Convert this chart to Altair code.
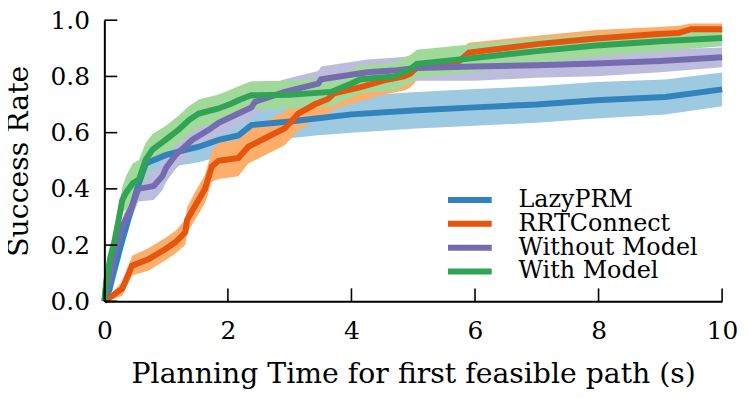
import altair as alt
import pandas as pd

series_names = ["LazyPRM", "RRTConnect", "Without Model", "With Model"]
line_colors = ["#3182bd", "#e6550d", "#756bb1", "#31a354"]
band_colors = ["#9ecae1", "#fdae6b", "#bcbddc", "#a1d99b"]
x_ticks = [0, 2, 4, 6, 8, 10]
y_ticks = [0.0, 0.2, 0.4, 0.6, 0.8, 1.0]

# LazyPRM
lazy_x = [0, 0.08, 0.15, 0.27, 0.4, 0.53, 0.67, 0.99, 1.25, 1.53, 1.85, 2.17, 2.38, 3.0, 3.46, 4.0, 5.06, 6.0, 7.0, 7.96, 9.08, 10]
lazy_y = [0, 0.04, 0.1, 0.2, 0.3, 0.4, 0.49, 0.52, 0.535, 0.55, 0.574, 0.59, 0.627, 0.64, 0.651, 0.665, 0.68, 0.69, 0.70, 0.715, 0.727, 0.754]
lazy_e = [0, 0.01, 0.02, 0.025, 0.03, 0.035, 0.04, 0.045, 0.05, 0.055, 0.06, 0.06, 0.06, 0.06, 0.06, 0.065, 0.065, 0.065, 0.065, 0.065, 0.062, 0.06]

# RRTConnect
rrt_x = [0, 0.1, 0.29, 0.45, 0.72, 0.99, 1.15, 1.31, 1.34, 1.47, 1.63, 1.74, 1.85, 2.17, 2.33, 2.6, 2.92, 3.14, 3.4, 3.62, 3.72, 4.15, 4.53, 4.85, 4.95, 5.1, 5.75, 5.9, 7.0, 7.96, 8.9, 9.3, 9.5, 10]
rrt_y = [0, 0.015, 0.045, 0.127, 0.15, 0.186, 0.21, 0.245, 0.29, 0.34, 0.40, 0.48, 0.50, 0.51, 0.55, 0.58, 0.615, 0.668, 0.70, 0.72, 0.74, 0.762, 0.786, 0.80, 0.81, 0.84, 0.855, 0.885, 0.915, 0.935, 0.95, 0.955, 0.968, 0.968]
rrt_e = [0, 0.01, 0.025, 0.035, 0.04, 0.04, 0.04, 0.045, 0.045, 0.05, 0.05, 0.055, 0.065, 0.065, 0.06, 0.06, 0.06, 0.06, 0.055, 0.055, 0.055, 0.05, 0.05, 0.05, 0.05, 0.045, 0.04, 0.035, 0.03, 0.03, 0.025, 0.025, 0.02, 0.02]

# Without Model
wo_x = [0, 0.05, 0.1, 0.2, 0.3, 0.45, 0.55, 0.8, 0.94, 1.0, 1.15, 1.42, 1.69, 1.85, 2.17, 2.38, 2.44, 2.92, 3.46, 3.51, 4.26, 4.74, 5.06, 6.0, 7.0, 7.96, 9.0, 10]
wo_y = [0, 0.05, 0.1, 0.2, 0.27, 0.34, 0.40, 0.41, 0.445, 0.475, 0.52, 0.574, 0.61, 0.635, 0.668, 0.69, 0.71, 0.745, 0.774, 0.79, 0.815, 0.822, 0.83, 0.835, 0.84, 0.846, 0.855, 0.868]
wo_e = [0, 0.015, 0.02, 0.025, 0.03, 0.04, 0.045, 0.05, 0.05, 0.05, 0.05, 0.045, 0.045, 0.045, 0.045, 0.045, 0.045, 0.045, 0.045, 0.045, 0.045, 0.045, 0.045, 0.05, 0.045, 0.045, 0.04, 0.035]

# With Model
wm_x = [0, 0.03, 0.1, 0.16, 0.24, 0.29, 0.35, 0.46, 0.56, 0.67, 0.78, 0.99, 1.2, 1.37, 1.53, 1.85, 2.06, 2.17, 2.38, 3.0, 3.67, 3.99, 4.15, 4.69, 4.96, 5.06, 5.87, 7.0, 7.96, 9.0, 10]
wm_y = [0, 0.07, 0.16, 0.21, 0.30, 0.36, 0.386, 0.42, 0.433, 0.504, 0.54, 0.574, 0.61, 0.645, 0.668, 0.686, 0.704, 0.715, 0.733, 0.735, 0.745, 0.774, 0.79, 0.80, 0.827, 0.845, 0.863, 0.89, 0.91, 0.925, 0.937]
wm_e = [0, 0.02, 0.03, 0.035, 0.04, 0.045, 0.06, 0.07, 0.07, 0.06, 0.055, 0.05, 0.05, 0.05, 0.05, 0.05, 0.05, 0.05, 0.05, 0.05, 0.05, 0.05, 0.05, 0.05, 0.05, 0.05, 0.05, 0.045, 0.04, 0.035, 0.03]

all_series = [
    ("LazyPRM", lazy_x, lazy_y, lazy_e),
    ("RRTConnect", rrt_x, rrt_y, rrt_e),
    ("Without Model", wo_x, wo_y, wo_e),
    ("With Model", wm_x, wm_y, wm_e),
]

rows = []
for name, xs, ys, es in all_series:
    assert len(xs) == len(ys) == len(es), name
    for x, y, e in zip(xs, ys, es):
        rows.append({"series": name, "t": x, "rate": y,
                     "lo": max(0.0, y - e), "hi": min(1.0, y + e)})
df = pd.DataFrame(rows)

W, H = 622, 283
FONT = "DejaVu Serif"
X_TITLE = "Planning Time for first feasible path (s)"
Y_TITLE = "Success Rate"

x_axis = alt.Axis(values=x_ticks, format="d", labelFont=FONT, labelFontSize=25,
                  labelColor="black", ticks=False, tickSize=0, labelPadding=37,
                  labelBaseline="alphabetic", domainColor="black", domainWidth=2,
                  grid=False, titleFont=FONT, titleFontSize=28.5, titleFontWeight="normal",
                  titleColor="black", titleBaseline="alphabetic", titleY=82,
                  labelFlush=False, zindex=1)
y_axis = alt.Axis(values=y_ticks, format=".1f", labelFont=FONT, labelFontSize=25,
                  labelColor="black", ticks=False, tickSize=0, labelPadding=15,
                  domainColor="black", domainWidth=2, grid=False,
                  titleFont=FONT, titleFontSize=28.5, titleFontWeight="normal",
                  titleColor="black", titleBaseline="alphabetic", titleX=-77,
                  titleY=H / 2, labelFlush=False, zindex=1)

x_scale = alt.Scale(domain=[0, 10], nice=False, zero=False)
y_scale = alt.Scale(domain=[0, 1], nice=False, zero=False)


def xenc(field="t"):
    return alt.X(f"{field}:Q", scale=x_scale, axis=x_axis, title=X_TITLE)


def yenc(field):
    return alt.Y(f"{field}:Q", scale=y_scale, axis=y_axis, title=Y_TITLE)


legend = alt.Legend(title=None, orient="none", legendX=356, legendY=169, padding=0,
                    symbolType="M-3,0H3", symbolSize=215, symbolStrokeWidth=6,
                    labelFont=FONT, labelFontSize=24, labelColor="black",
                    labelOffset=37, labelLimit=400, rowPadding=-4)

layers = []
for name, band in zip(series_names, band_colors):
    layers.append(
        alt.Chart(df).transform_filter(alt.datum.series == name)
        .mark_area(opacity=1, color=band)
        .encode(x=xenc(), y=yenc("lo"), y2="hi:Q")
    )
for name in series_names:
    layers.append(
        alt.Chart(df).transform_filter(alt.datum.series == name)
        .mark_line(strokeWidth=6)
        .encode(x=xenc(), y=yenc("rate"),
                stroke=alt.Stroke("series:N", scale=alt.Scale(domain=series_names, range=line_colors),
                                  legend=legend))
    )

xtick_layer = alt.Chart(pd.DataFrame({"t": x_ticks})).mark_rule(color="black", strokeWidth=1.6).encode(
    x=xenc(), y=alt.value(H), y2=alt.value(H - 13))
ytick_layer = alt.Chart(pd.DataFrame({"rate": y_ticks})).mark_rule(color="black", strokeWidth=1.6).encode(
    y=yenc("rate"), x=alt.value(0), x2=alt.value(13))
layers += [xtick_layer, ytick_layer]

chart = alt.layer(*layers).properties(
    width=W, height=H,
    autosize=alt.AutoSizeParams(type="none"),
    padding={"left": 97, "top": 11, "right": 18, "bottom": 88},
    background="white",
).configure_view(stroke=None)

chart.save("out.html", embed_options={"renderer": "svg", "actions": False})
